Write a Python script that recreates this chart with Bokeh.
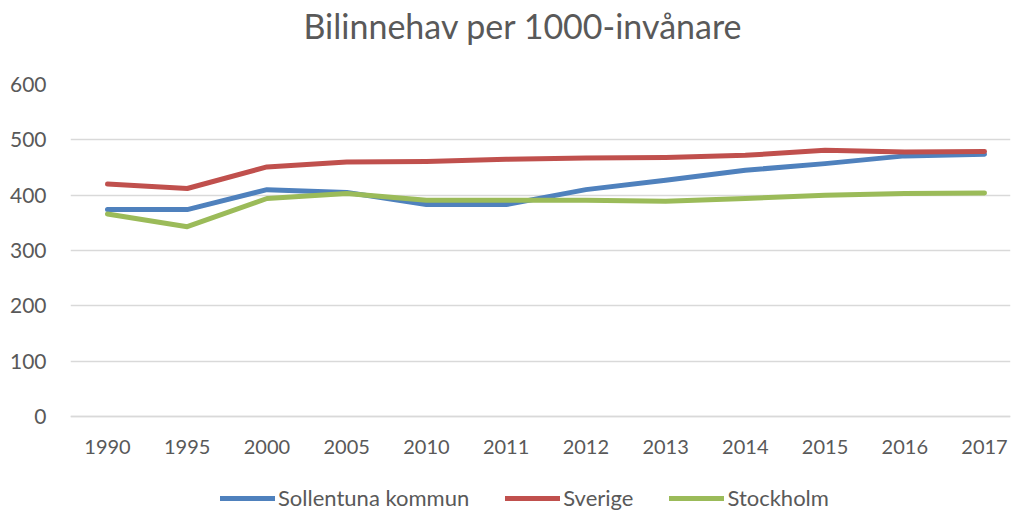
from bokeh.plotting import figure
from bokeh.models import Range1d, FixedTicker, Legend, LegendItem, ColumnDataSource, Title
from bokeh.embed import file_html
from bokeh.resources import INLINE

years = ["1990", "1995", "2000", "2005", "2010", "2011", "2012", "2013", "2014", "2015", "2016", "2017"]
sollentuna = [374, 374, 410, 405, 383, 383, 410, 427, 445, 457, 471, 474]
sverige = [420, 412, 451, 460, 461, 465, 467, 468, 472, 481, 478, 479]
stockholm = [366, 343, 394, 403, 391, 391, 391, 389, 394, 400, 403, 404]
y_ticks = [0, 100, 200, 300, 400, 500, 600]

FONT = "Lato"
GREY = "#595959"

idx = list(range(len(years)))
src = ColumnDataSource(dict(x=idx, sol=sollentuna, sve=sverige, sto=stockholm))

# plot area runs to the bottom edge; the x axis sits at y=0 and the legend below it
p = figure(width=1012, height=511, output_backend="svg", toolbar_location=None,
           x_range=Range1d(-0.464, 11.326), y_range=Range1d(-171.7, 600),
           min_border_left=70, min_border_right=2, min_border_top=84, min_border_bottom=0)

p.title.text = "Bilinnehav per 1000-invånare"
p.title.align = "left"
p.title.offset = 233
p.title.text_font = FONT
p.title.text_font_size = "34px"
p.title.text_font_style = "normal"
p.title.text_color = GREY
p.title.standoff = 4

# spacer between title and plot area
p.add_layout(Title(text=" ", text_font_size="1px", standoff=34), "above")

p.outline_line_color = None
p.xgrid.grid_line_color = None
p.ygrid.grid_line_color = "#d9d9d9"
p.ygrid.grid_line_width = 1.5
p.yaxis.ticker = FixedTicker(ticks=y_ticks)
p.xaxis.ticker = FixedTicker(ticks=idx)
p.xaxis.major_label_overrides = {i: y for i, y in enumerate(years)}
p.xaxis.fixed_location = 0

for ax in (p.xaxis, p.yaxis):
    ax.major_tick_line_color = None
    ax.minor_tick_line_color = None
    ax.major_label_text_font = FONT
    ax.major_label_text_color = GREY
p.xaxis.major_label_text_font_size = "20px"
p.yaxis.major_label_text_font_size = "21px"
p.yaxis.axis_line_color = None
p.xaxis.axis_line_color = "#d9d9d9"
p.xaxis.axis_line_width = 1.5
p.yaxis.major_label_standoff = 18
p.xaxis.major_label_standoff = 18

r1 = p.line("x", "sol", source=src, line_width=5, color="#4f81bd", line_cap="round", line_join="round")
r2 = p.line("x", "sve", source=src, line_width=5, color="#c0504d", line_cap="round", line_join="round")
r3 = p.line("x", "sto", source=src, line_width=5, color="#9bbb59", line_cap="round", line_join="round")

legend = Legend(items=[LegendItem(label="Sollentuna kommun", renderers=[r1]),
                       LegendItem(label="Sverige", renderers=[r2]),
                       LegendItem(label="Stockholm", renderers=[r3])],
                orientation="horizontal", location=(150, 0),
                border_line_color=None, background_fill_alpha=0,
                glyph_width=55, glyph_height=20, label_standoff=3, spacing=36,
                padding=0, margin=0,
                label_text_font=FONT, label_text_font_size="22px", label_text_color=GREY)
p.add_layout(legend, "center")

open("out.html", "w").write(file_html(p, INLINE))
